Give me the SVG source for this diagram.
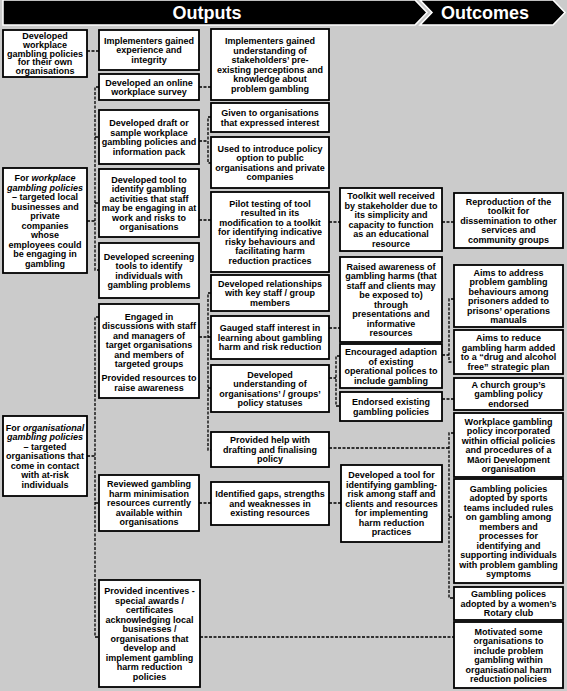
<svg xmlns="http://www.w3.org/2000/svg" width="567" height="691" viewBox="0 0 567 691">
<style>
.box{fill:#fff;stroke:#000;stroke-width:1.8}
.t{font-family:"Liberation Sans",Arial,sans-serif;font-size:9px;font-weight:bold;text-anchor:middle;fill:#000}
.i{font-style:italic}
.c{fill:none;stroke:#000;stroke-width:1.3;stroke-dasharray:3 1.5}
.h{font-family:"Liberation Sans",Arial,sans-serif;font-size:18px;font-weight:bold;text-anchor:middle;fill:#fff}
</style>
<rect x="0" y="0" width="567" height="691" fill="#cbcbcb"/>
<g id="header">
<polygon points="3,0 415,0 427,12.5 415,25 3,25" fill="#000" stroke="#fff" stroke-width="1.5"/>
<polygon points="420,0 553,0 565,12.5 553,25 420,25 432,12.5" fill="#000" stroke="#fff" stroke-width="1.5"/>
<text class="h" x="207" y="19">Outputs</text>
<text class="h" x="485" y="19">Outcomes</text>
</g>
<g id="connectors">
<path class="c" d="M87,51H99"/>
<path class="c" d="M199,87H211"/>
<path class="c" d="M99,87H95V270H99M95,137H99M95,203H99M87,221H95"/>
<path class="c" d="M199,141H208M211,117H208V163H211"/>
<path class="c" d="M199,220H211"/>
<path class="c" d="M329,222H340M442,222H454"/>
<path class="c" d="M87,456H95M99,317H95V637H99M95,503H99"/>
<path class="c" d="M199,337H211M211,293H208V450H211M208,388H211"/>
<path class="c" d="M329,328H340"/>
<path class="c" d="M329,378H336M340,356H336V406H340"/>
<path class="c" d="M442,355H449M454,299H449V362H454"/>
<path class="c" d="M442,399H454"/>
<path class="c" d="M329,448H449M454,433H449V598H454M449,517H454"/>
<path class="c" d="M199,503H211M329,503H341"/>
<path class="c" d="M200,637H454"/>
</g>
<g id="A"><rect class="box" x="3" y="30" width="84" height="47"/>
<text class="t" y="38.9"><tspan x="45">Developed</tspan><tspan x="45" dy="8.8">workplace</tspan><tspan x="45" dy="8.8">gambling policies</tspan><tspan x="45" dy="8.8">for their own</tspan><tspan x="45" dy="8.8">organisations</tspan></text></g>
<g id="B"><rect class="box" x="3" y="168" width="84" height="105"/>
<text class="t" y="181"><tspan x="45">For <tspan class="i">workplace</tspan></tspan><tspan x="45" dy="9.5" class="i">gambling policies</tspan><tspan x="45" dy="9.5">– targeted local</tspan><tspan x="45" dy="9.5">businesses and</tspan><tspan x="45" dy="9.5">private</tspan><tspan x="45" dy="9.5">companies</tspan><tspan x="45" dy="9.5">whose</tspan><tspan x="45" dy="9.5">employees could</tspan><tspan x="45" dy="9.5">be engaging in</tspan><tspan x="45" dy="9.5">gambling</tspan></text></g>
<g id="C"><rect class="box" x="3" y="416" width="84" height="80"/>
<text class="t" y="430.7"><tspan x="45">For <tspan class="i">organisational</tspan></tspan><tspan x="45" dy="9.5" class="i">gambling policies</tspan><tspan x="45" dy="9.5">– targeted</tspan><tspan x="45" dy="9.5">organisations that</tspan><tspan x="45" dy="9.5">come in contact</tspan><tspan x="45" dy="9.5">with at-risk</tspan><tspan x="45" dy="9.5">individuals</tspan></text></g>
<g id="D1"><rect class="box" x="99" y="30" width="100" height="40"/>
<text class="t" y="43.7"><tspan x="149">Implementers gained</tspan><tspan x="149" dy="9.5">experience and</tspan><tspan x="149" dy="9.5">integrity</tspan></text></g>
<g id="D2"><rect class="box" x="99" y="74" width="100" height="26"/>
<text class="t" y="85.5"><tspan x="149">Developed an online</tspan><tspan x="149" dy="9.5">workplace survey</tspan></text></g>
<g id="D3"><rect class="box" x="99" y="110" width="100" height="54"/>
<text class="t" y="126"><tspan x="149">Developed draft or</tspan><tspan x="149" dy="9.5">sample workplace</tspan><tspan x="149" dy="9.5">gambling policies and</tspan><tspan x="149" dy="9.5">information pack</tspan></text></g>
<g id="D4"><rect class="box" x="99" y="169" width="100" height="68"/>
<text class="t" y="182.5"><tspan x="149">Developed tool to</tspan><tspan x="149" dy="9.5">identify gambling</tspan><tspan x="149" dy="9.5">activities that staff</tspan><tspan x="149" dy="9.5">may be engaging in at</tspan><tspan x="149" dy="9.5">work and risks to</tspan><tspan x="149" dy="9.5">organisations</tspan></text></g>
<g id="D5"><rect class="box" x="99" y="243" width="100" height="55"/>
<text class="t" y="259.5"><tspan x="149">Developed screening</tspan><tspan x="149" dy="9.5">tools to identify</tspan><tspan x="149" dy="9.5">individuals with</tspan><tspan x="149" dy="9.5">gambling problems</tspan></text></g>
<g id="D6"><rect class="box" x="99" y="304" width="100" height="94"/>
<text class="t" y="319.7"><tspan x="149">Engaged in</tspan><tspan x="149" dy="9.5">discussions with staff</tspan><tspan x="149" dy="9.5">and managers of</tspan><tspan x="149" dy="9.5">target organisations</tspan><tspan x="149" dy="9.5">and members of</tspan><tspan x="149" dy="9.5">targeted groups</tspan><tspan x="149" dy="14">Provided resources to</tspan><tspan x="149" dy="9.5">raise awareness</tspan></text></g>
<g id="D7"><rect class="box" x="99" y="475" width="100" height="56"/>
<text class="t" y="487.2"><tspan x="149">Reviewed gambling</tspan><tspan x="149" dy="9.5">harm minimisation</tspan><tspan x="149" dy="9.5">resources currently</tspan><tspan x="149" dy="9.5">available within</tspan><tspan x="149" dy="9.5">organisations</tspan></text></g>
<g id="D8"><rect class="box" x="99" y="580" width="101" height="107"/>
<text class="t" y="594"><tspan x="149.5">Provided incentives -</tspan><tspan x="149.5" dy="9.5">special awards /</tspan><tspan x="149.5" dy="9.5">certificates</tspan><tspan x="149.5" dy="9.5">acknowledging local</tspan><tspan x="149.5" dy="9.5">businesses /</tspan><tspan x="149.5" dy="9.5">organisations that</tspan><tspan x="149.5" dy="9.5">develop and</tspan><tspan x="149.5" dy="9.5">implement gambling</tspan><tspan x="149.5" dy="9.5">harm reduction</tspan><tspan x="149.5" dy="9.5">policies</tspan></text></g>
<g id="E1"><rect class="box" x="211" y="29" width="118" height="71"/>
<text class="t" y="44"><tspan x="270">Implementers gained</tspan><tspan x="270" dy="9.5">understanding of</tspan><tspan x="270" dy="9.5">stakeholders’ pre-</tspan><tspan x="270" dy="9.5">existing perceptions and</tspan><tspan x="270" dy="9.5">knowledge about</tspan><tspan x="270" dy="9.5">problem gambling</tspan></text></g>
<g id="E2"><rect class="box" x="211" y="103" width="118" height="29"/>
<text class="t" y="116"><tspan x="270">Given to organisations</tspan><tspan x="270" dy="9.5">that expressed interest</tspan></text></g>
<g id="E3"><rect class="box" x="211" y="137" width="118" height="51"/>
<text class="t" y="151.5"><tspan x="270">Used to introduce policy</tspan><tspan x="270" dy="9.5">option to public</tspan><tspan x="270" dy="9.5">organisations and private</tspan><tspan x="270" dy="9.5">companies</tspan></text></g>
<g id="E4"><rect class="box" x="211" y="192" width="118" height="80"/>
<text class="t" y="206.7"><tspan x="270">Pilot testing of tool</tspan><tspan x="270" dy="9.5">resulted in its</tspan><tspan x="270" dy="9.5">modification to a toolkit</tspan><tspan x="270" dy="9.5">for identifying indicative</tspan><tspan x="270" dy="9.5">risky behaviours and</tspan><tspan x="270" dy="9.5">facilitating harm</tspan><tspan x="270" dy="9.5">reduction practices</tspan></text></g>
<g id="E5"><rect class="box" x="211" y="275" width="118" height="36"/>
<text class="t" y="286.7"><tspan x="270">Developed relationships</tspan><tspan x="270" dy="9.5">with key staff / group</tspan><tspan x="270" dy="9.5">members</tspan></text></g>
<g id="E6"><rect class="box" x="211" y="316" width="118" height="43"/>
<text class="t" y="331.2"><tspan x="270">Gauged staff interest in</tspan><tspan x="270" dy="9.5">learning about gambling</tspan><tspan x="270" dy="9.5">harm and risk reduction</tspan></text></g>
<g id="E7"><rect class="box" x="211" y="365" width="118" height="47"/>
<text class="t" y="377.5"><tspan x="270">Developed</tspan><tspan x="270" dy="9.5">understanding of</tspan><tspan x="270" dy="9.5">organisations’ / groups’</tspan><tspan x="270" dy="9.5">policy statuses</tspan></text></g>
<g id="E8"><rect class="box" x="211" y="432" width="118" height="35"/>
<text class="t" y="443.2"><tspan x="270">Provided help with</tspan><tspan x="270" dy="9.5">drafting and finalising</tspan><tspan x="270" dy="9.5">policy</tspan></text></g>
<g id="E9"><rect class="box" x="211" y="482" width="118" height="43"/>
<text class="t" y="497.2"><tspan x="270">Identified gaps, strengths</tspan><tspan x="270" dy="9.5">and weaknesses in</tspan><tspan x="270" dy="9.5">existing resources</tspan></text></g>
<g id="F1"><rect class="box" x="340" y="188" width="102" height="63"/>
<text class="t" y="199"><tspan x="391">Toolkit well received</tspan><tspan x="391" dy="9.5">by stakeholder due to</tspan><tspan x="391" dy="9.5">its simplicity and</tspan><tspan x="391" dy="9.5">capacity to function</tspan><tspan x="391" dy="9.5">as an educational</tspan><tspan x="391" dy="9.5">resource</tspan></text></g>
<g id="F2"><rect class="box" x="340" y="257" width="102" height="85"/>
<text class="t" y="269.5"><tspan x="391">Raised awareness of</tspan><tspan x="391" dy="9.5">gambling harms (that</tspan><tspan x="391" dy="9.5">staff and clients may</tspan><tspan x="391" dy="9.5">be exposed to)</tspan><tspan x="391" dy="9.5">through</tspan><tspan x="391" dy="9.5">presentations and</tspan><tspan x="391" dy="9.5">informative</tspan><tspan x="391" dy="9.5">resources</tspan></text></g>
<g id="F3"><rect class="box" x="340" y="344" width="102" height="44"/>
<text class="t" y="355"><tspan x="391">Encouraged adaption</tspan><tspan x="391" dy="9.5">of existing</tspan><tspan x="391" dy="9.5">operational polices to</tspan><tspan x="391" dy="9.5">include gambling</tspan></text></g>
<g id="F4"><rect class="box" x="340" y="392" width="102" height="29"/>
<text class="t" y="405"><tspan x="391">Endorsed existing</tspan><tspan x="391" dy="9.5">gambling policies</tspan></text></g>
<g id="F5"><rect class="box" x="341" y="465" width="101" height="77"/>
<text class="t" y="478.2"><tspan x="391.5">Developed a tool for</tspan><tspan x="391.5" dy="9.5">identifying gambling-</tspan><tspan x="391.5" dy="9.5">risk among staff and</tspan><tspan x="391.5" dy="9.5">clients and resources</tspan><tspan x="391.5" dy="9.5">for implementing</tspan><tspan x="391.5" dy="9.5">harm reduction</tspan><tspan x="391.5" dy="9.5">practices</tspan></text></g>
<g id="G1"><rect class="box" x="454" y="193" width="109" height="55"/>
<text class="t" y="204.7"><tspan x="508.5">Reproduction of the</tspan><tspan x="508.5" dy="9.5">toolkit for</tspan><tspan x="508.5" dy="9.5">dissemination to other</tspan><tspan x="508.5" dy="9.5">services and</tspan><tspan x="508.5" dy="9.5">community groups</tspan></text></g>
<g id="G2"><rect class="box" x="454" y="265" width="109" height="62"/>
<text class="t" y="275.5"><tspan x="508.5">Aims to address</tspan><tspan x="508.5" dy="9.5">problem gambling</tspan><tspan x="508.5" dy="9.5">behaviours among</tspan><tspan x="508.5" dy="9.5">prisoners added to</tspan><tspan x="508.5" dy="9.5">prisons’ operations</tspan><tspan x="508.5" dy="9.5">manuals</tspan></text></g>
<g id="G3"><rect class="box" x="454" y="330" width="109" height="44"/>
<text class="t" y="341"><tspan x="508.5">Aims to reduce</tspan><tspan x="508.5" dy="9.5">gambling harm added</tspan><tspan x="508.5" dy="9.5">to a “drug and alcohol</tspan><tspan x="508.5" dy="9.5">free” strategic plan</tspan></text></g>
<g id="G4"><rect class="box" x="454" y="378" width="109" height="32"/>
<text class="t" y="387.7"><tspan x="508.5">A church group’s</tspan><tspan x="508.5" dy="9.5">gambling policy</tspan><tspan x="508.5" dy="9.5">endorsed</tspan></text></g>
<g id="G5"><rect class="box" x="454" y="413" width="109" height="64"/>
<text class="t" y="424.5"><tspan x="508.5">Workplace gambling</tspan><tspan x="508.5" dy="9.5">policy incorporated</tspan><tspan x="508.5" dy="9.5">within official policies</tspan><tspan x="508.5" dy="9.5">and procedures of a</tspan><tspan x="508.5" dy="9.5">Māori Development</tspan><tspan x="508.5" dy="9.5">organisation</tspan></text></g>
<g id="G6"><rect class="box" x="454" y="479" width="109" height="104"/>
<text class="t" y="491.5"><tspan x="508.5">Gambling policies</tspan><tspan x="508.5" dy="9.5">adopted by sports</tspan><tspan x="508.5" dy="9.5">teams included rules</tspan><tspan x="508.5" dy="9.5">on gambling among</tspan><tspan x="508.5" dy="9.5">members and</tspan><tspan x="508.5" dy="9.5">processes for</tspan><tspan x="508.5" dy="9.5">identifying and</tspan><tspan x="508.5" dy="9.5">supporting individuals</tspan><tspan x="508.5" dy="9.5">with problem gambling</tspan><tspan x="508.5" dy="9.5">symptoms</tspan></text></g>
<g id="G7"><rect class="box" x="454" y="587" width="109" height="33"/>
<text class="t" y="597.2"><tspan x="508.5">Gambling polices</tspan><tspan x="508.5" dy="9.5">adopted by a women’s</tspan><tspan x="508.5" dy="9.5">Rotary club</tspan></text></g>
<g id="G8"><rect class="box" x="454" y="622" width="109" height="66"/>
<text class="t" y="634.5"><tspan x="508.5">Motivated some</tspan><tspan x="508.5" dy="9.5">organisations to</tspan><tspan x="508.5" dy="9.5">include problem</tspan><tspan x="508.5" dy="9.5">gambling within</tspan><tspan x="508.5" dy="9.5">organisational harm</tspan><tspan x="508.5" dy="9.5">reduction policies</tspan></text></g>
</svg>
